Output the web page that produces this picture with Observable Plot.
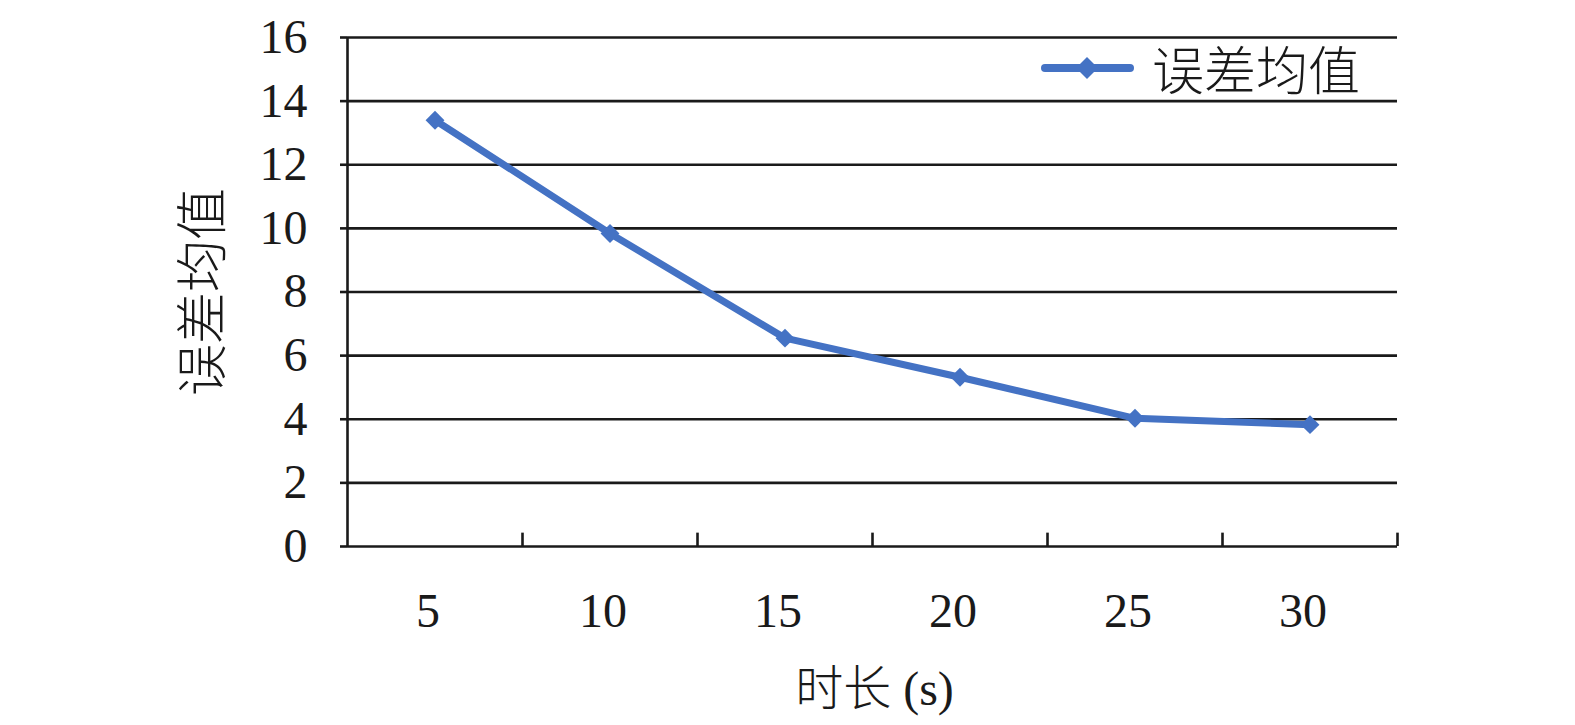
<!DOCTYPE html>
<html>
<head>
<meta charset="utf-8">
<script src="https://cdn.jsdelivr.net/npm/d3@7"></script>
<script src="https://cdn.jsdelivr.net/npm/@observablehq/plot@0.6"></script>
<style>
  html, body { margin: 0; padding: 0; background: #fff; overflow: hidden; }
  #wrap { position: relative; width: 1575px; height: 725px; overflow: hidden; }
  #wrap > svg { display: block; max-width: none !important; }
  #legend { position: absolute; left: 1040px; top: 30px; display: flex; align-items: center;
    font-family: "Liberation Serif", "Noto Sans CJK SC", serif; font-size: 52px; font-weight: 300; color: #1a1a1a; }
  #legend svg { margin-right: 16px; }
  .cjk { font-weight: 300; }
</style>
</head>
<body>
<div id="wrap"></div>
<script>
const durations = [5, 10, 15, 20, 25, 30];
const errorMeans = [13.4, 9.84, 6.55, 5.32, 4.03, 3.83];
const yTicks = [0, 2, 4, 6, 8, 10, 12, 14, 16];
const xBoundaries = [2.5, 7.5, 12.5, 17.5, 22.5, 27.5, 32.5];
const seriesName = "误差均值";
const xTitle = "时长 (s)";
const yTitle = "误差均值";

const data = durations.map((d, i) => ({duration: d, value: errorMeans[i]}));
const blue = "#4472C4";
const ink = "#1a1a1a";
const serif = "Liberation Serif, Noto Sans CJK SC, serif";

const chart = Plot.plot({
  width: 1575,
  height: 725,
  marginLeft: 347,
  marginRight: 178,
  marginTop: 37,
  marginBottom: 179,
  style: {fontFamily: serif, color: ink, background: "#fff"},
  x: {type: "linear", domain: [2.5, 32.5]},
  y: {domain: [0, 16]},
  marks: [
    Plot.gridY(yTicks.filter(t => t > 0), {stroke: ink, strokeOpacity: 1, strokeWidth: 2.6}),
    Plot.ruleY([0], {stroke: ink, strokeWidth: 2.6}),
    Plot.ruleX([xBoundaries[0]], {y1: 0, y2: 16, stroke: ink, strokeWidth: 2.6}),
    Plot.ruleX(xBoundaries.slice(1), {y1: 0, y2: 0.42, stroke: ink, strokeWidth: 2.6}),
    Plot.axisY({ticks: yTicks, tickSize: 7, tickPadding: 33, fontSize: 48, label: null, strokeWidth: 2.6}),
    Plot.axisX({ticks: durations, tickSize: 0, tickPadding: 46, fontSize: 48, label: null, dx: -7}),
    Plot.line(data, {x: "duration", y: "value", stroke: blue, strokeWidth: 7, strokeLinejoin: "round"}),
    Plot.dot(data, {x: "duration", y: "value", symbol: "diamond2", r: 8.5, fill: blue, stroke: "none"}),
    Plot.text([yTitle], {frameAnchor: "left", textAnchor: "middle", dx: -143, rotate: -90, fontSize: 52, fill: ink, className: "cjk"}),
    Plot.text([xTitle], {frameAnchor: "bottom", dy: 158, fontSize: 48, fill: ink, dx: 2, className: "cjk"})
  ]
});

const wrap = document.getElementById("wrap");
wrap.appendChild(chart);

const legend = document.createElement("div");
legend.id = "legend";
legend.innerHTML = `<svg width="96" height="30" viewBox="0 0 96 30">
  <line x1="5" y1="15" x2="90" y2="15" stroke="${blue}" stroke-width="8" stroke-linecap="round"/>
  <path d="M47,4 L58,15 L47,26 L36,15 Z" fill="${blue}"/>
</svg><span>${seriesName}</span>`;
wrap.appendChild(legend);
</script>
</body>
</html>
